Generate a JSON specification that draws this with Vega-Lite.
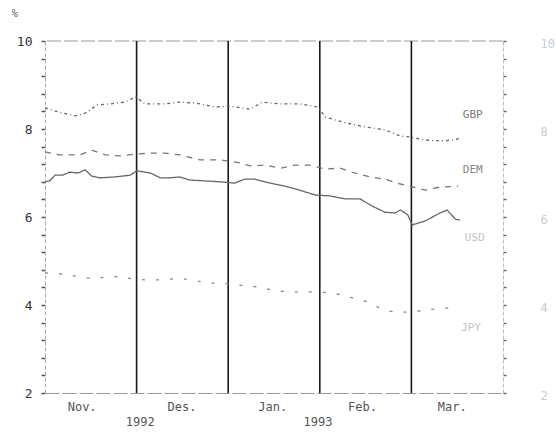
{
  "$schema": "https://vega.github.io/schema/vega-lite/v6.json",
  "autosize": "none",
  "width": 458,
  "height": 352,
  "padding": {"left": 45, "top": 41, "right": 53, "bottom": 44},
  "background": "white",
  "config": {"view": {"stroke": null}},
  "datasets": {
    "rates": [
      {"s": "GBP", "t": 0, "v": 8.48}, {"s": "GBP", "t": 0.16, "v": 8.38}, {"s": "GBP", "t": 0.33, "v": 8.3}, {"s": "GBP", "t": 0.44, "v": 8.36},
      {"s": "GBP", "t": 0.57, "v": 8.55}, {"s": "GBP", "t": 0.71, "v": 8.57}, {"s": "GBP", "t": 0.87, "v": 8.61}, {"s": "GBP", "t": 0.99, "v": 8.73},
      {"s": "GBP", "t": 1.09, "v": 8.57}, {"s": "GBP", "t": 1.31, "v": 8.57}, {"s": "GBP", "t": 1.47, "v": 8.61}, {"s": "GBP", "t": 1.64, "v": 8.59},
      {"s": "GBP", "t": 1.86, "v": 8.5}, {"s": "GBP", "t": 2.02, "v": 8.52}, {"s": "GBP", "t": 2.24, "v": 8.45}, {"s": "GBP", "t": 2.37, "v": 8.61},
      {"s": "GBP", "t": 2.57, "v": 8.57}, {"s": "GBP", "t": 2.78, "v": 8.57}, {"s": "GBP", "t": 2.98, "v": 8.5}, {"s": "GBP", "t": 3.06, "v": 8.27},
      {"s": "GBP", "t": 3.28, "v": 8.14}, {"s": "GBP", "t": 3.49, "v": 8.05}, {"s": "GBP", "t": 3.71, "v": 7.98}, {"s": "GBP", "t": 3.88, "v": 7.84},
      {"s": "GBP", "t": 3.98, "v": 7.82}, {"s": "GBP", "t": 4.15, "v": 7.75}, {"s": "GBP", "t": 4.31, "v": 7.73}, {"s": "GBP", "t": 4.48, "v": 7.75},
      {"s": "GBP", "t": 4.53, "v": 7.8},
      {"s": "DEM", "t": 0, "v": 7.48}, {"s": "DEM", "t": 0.16, "v": 7.41}, {"s": "DEM", "t": 0.38, "v": 7.41}, {"s": "DEM", "t": 0.51, "v": 7.52},
      {"s": "DEM", "t": 0.66, "v": 7.41}, {"s": "DEM", "t": 0.82, "v": 7.39}, {"s": "DEM", "t": 0.98, "v": 7.43}, {"s": "DEM", "t": 1.15, "v": 7.45},
      {"s": "DEM", "t": 1.31, "v": 7.45}, {"s": "DEM", "t": 1.47, "v": 7.41}, {"s": "DEM", "t": 1.69, "v": 7.3}, {"s": "DEM", "t": 1.91, "v": 7.3},
      {"s": "DEM", "t": 2.13, "v": 7.23}, {"s": "DEM", "t": 2.24, "v": 7.16}, {"s": "DEM", "t": 2.4, "v": 7.18}, {"s": "DEM", "t": 2.57, "v": 7.11},
      {"s": "DEM", "t": 2.73, "v": 7.18}, {"s": "DEM", "t": 2.89, "v": 7.18}, {"s": "DEM", "t": 3.06, "v": 7.09}, {"s": "DEM", "t": 3.22, "v": 7.11},
      {"s": "DEM", "t": 3.38, "v": 7.0}, {"s": "DEM", "t": 3.55, "v": 6.91}, {"s": "DEM", "t": 3.71, "v": 6.86}, {"s": "DEM", "t": 3.88, "v": 6.75},
      {"s": "DEM", "t": 3.98, "v": 6.7}, {"s": "DEM", "t": 4.15, "v": 6.61}, {"s": "DEM", "t": 4.31, "v": 6.68}, {"s": "DEM", "t": 4.51, "v": 6.7},
      {"s": "USD", "t": 0, "v": 6.8}, {"s": "USD", "t": 0.05, "v": 6.82}, {"s": "USD", "t": 0.11, "v": 6.95}, {"s": "USD", "t": 0.19, "v": 6.95},
      {"s": "USD", "t": 0.27, "v": 7.02}, {"s": "USD", "t": 0.36, "v": 7.0}, {"s": "USD", "t": 0.44, "v": 7.07}, {"s": "USD", "t": 0.51, "v": 6.93},
      {"s": "USD", "t": 0.6, "v": 6.89}, {"s": "USD", "t": 0.76, "v": 6.91}, {"s": "USD", "t": 0.93, "v": 6.95}, {"s": "USD", "t": 1.0, "v": 7.05},
      {"s": "USD", "t": 1.15, "v": 7.0}, {"s": "USD", "t": 1.26, "v": 6.89}, {"s": "USD", "t": 1.36, "v": 6.89}, {"s": "USD", "t": 1.47, "v": 6.91},
      {"s": "USD", "t": 1.58, "v": 6.84}, {"s": "USD", "t": 1.75, "v": 6.82}, {"s": "USD", "t": 1.91, "v": 6.8}, {"s": "USD", "t": 2.07, "v": 6.77},
      {"s": "USD", "t": 2.18, "v": 6.86}, {"s": "USD", "t": 2.29, "v": 6.86}, {"s": "USD", "t": 2.46, "v": 6.77}, {"s": "USD", "t": 2.62, "v": 6.7},
      {"s": "USD", "t": 2.78, "v": 6.61}, {"s": "USD", "t": 2.95, "v": 6.5}, {"s": "USD", "t": 3.11, "v": 6.48}, {"s": "USD", "t": 3.28, "v": 6.41},
      {"s": "USD", "t": 3.44, "v": 6.41}, {"s": "USD", "t": 3.57, "v": 6.25}, {"s": "USD", "t": 3.71, "v": 6.11}, {"s": "USD", "t": 3.82, "v": 6.09},
      {"s": "USD", "t": 3.88, "v": 6.16}, {"s": "USD", "t": 3.96, "v": 6.05}, {"s": "USD", "t": 4.01, "v": 5.82}, {"s": "USD", "t": 4.15, "v": 5.91},
      {"s": "USD", "t": 4.31, "v": 6.09}, {"s": "USD", "t": 4.39, "v": 6.16}, {"s": "USD", "t": 4.48, "v": 5.95}, {"s": "USD", "t": 4.53, "v": 5.93},
      {"s": "JPY", "t": 0, "v": 4.73}, {"s": "JPY", "t": 0.22, "v": 4.7}, {"s": "JPY", "t": 0.38, "v": 4.64}, {"s": "JPY", "t": 0.55, "v": 4.59},
      {"s": "JPY", "t": 0.71, "v": 4.66}, {"s": "JPY", "t": 0.9, "v": 4.61}, {"s": "JPY", "t": 1.09, "v": 4.57}, {"s": "JPY", "t": 1.29, "v": 4.57},
      {"s": "JPY", "t": 1.47, "v": 4.61}, {"s": "JPY", "t": 1.64, "v": 4.55}, {"s": "JPY", "t": 1.82, "v": 4.5}, {"s": "JPY", "t": 2.04, "v": 4.48},
      {"s": "JPY", "t": 2.18, "v": 4.43}, {"s": "JPY", "t": 2.35, "v": 4.41}, {"s": "JPY", "t": 2.51, "v": 4.32}, {"s": "JPY", "t": 2.67, "v": 4.3},
      {"s": "JPY", "t": 2.86, "v": 4.3}, {"s": "JPY", "t": 3.0, "v": 4.3}, {"s": "JPY", "t": 3.19, "v": 4.25}, {"s": "JPY", "t": 3.36, "v": 4.16},
      {"s": "JPY", "t": 3.53, "v": 4.07}, {"s": "JPY", "t": 3.69, "v": 3.89}, {"s": "JPY", "t": 3.82, "v": 3.84}, {"s": "JPY", "t": 3.98, "v": 3.84},
      {"s": "JPY", "t": 4.18, "v": 3.89}, {"s": "JPY", "t": 4.34, "v": 3.93}, {"s": "JPY", "t": 4.5, "v": 3.93}
    ],
    "bounds": [{"t": 1}, {"t": 2}, {"t": 3}, {"t": 4}],
    "labels": [
      {"s": "GBP", "t": 4.67, "v": 8.32, "c": "#777777"},
      {"s": "DEM", "t": 4.67, "v": 7.07, "c": "#888888"},
      {"s": "USD", "t": 4.69, "v": 5.52, "c": "#c4c4c4"},
      {"s": "JPY", "t": 4.65, "v": 3.48, "c": "#c4c4c4"}
    ],
    "years": [
      {"label": "1992", "t": 1.04, "v": 1.34},
      {"label": "1993", "t": 2.98, "v": 1.34}
    ],
    "unit": [{"label": "%", "t": -0.33, "v": 10.62}]
  },
  "resolve": {"axis": {"y": "independent"}},
  "layer": [
    {
      "data": {"values": [{"v": 10}]},
      "mark": {"type": "rule", "color": "#999999", "strokeWidth": 1.2, "strokeDash": [14, 3]},
      "encoding": {
        "y": {
          "field": "v", "type": "quantitative",
          "scale": {"domain": [2, 10], "nice": false, "zero": false},
          "axis": {
            "orient": "left", "title": null,
            "values": [2, 2.4, 2.8, 3.2, 3.6, 4, 4.4, 4.8, 5.2, 5.6, 6, 6.4, 6.8, 7.2, 7.6, 8, 8.4, 8.8, 9.2, 9.6, 10],
            "labelExpr": "(abs(datum.value - round(datum.value)) < 0.01 && round(datum.value) % 2 == 0) ? format(datum.value, 'd') : ''",
            "labelFont": "DejaVu Sans Mono", "labelFontSize": 13, "labelColor": "#333333",
            "labelPadding": 9, "tickSize": 4, "tickColor": "#555555", "tickWidth": 1.5,
            "domainColor": "#aaaaaa", "domainDash": [4, 2], "grid": false
          }
        }
      }
    },
    {
      "data": {"name": "bounds"},
      "mark": {"type": "rule", "color": "#1a1a1a", "strokeWidth": 1.6},
      "encoding": {
        "x": {
          "field": "t", "type": "quantitative",
          "scale": {"domain": [0, 5], "nice": false, "zero": false},
          "axis": {
            "orient": "bottom", "title": null,
            "values": [0.4, 1.49, 2.48, 3.46, 4.44],
            "labelExpr": "datum.value < 1 ? 'Nov.' : datum.value < 2 ? 'Des.' : datum.value < 3 ? 'Jan.' : datum.value < 4 ? 'Feb.' : 'Mar.'",
            "labelFont": "DejaVu Sans Mono", "labelFontSize": 12, "labelColor": "#555555",
            "labelPadding": 8, "ticks": false, "grid": false,
            "domainColor": "#999999", "domainWidth": 1.2, "domainDash": [14, 3]
          }
        }
      }
    },
    {
      "data": {"name": "rates"},
      "mark": {"type": "line", "strokeWidth": 1.3},
      "encoding": {
        "x": {"field": "t", "type": "quantitative"},
        "y": {
          "field": "v", "type": "quantitative",
          "axis": {
            "orient": "right", "title": null,
            "values": [2, 2.4, 2.8, 3.2, 3.6, 4, 4.4, 4.8, 5.2, 5.6, 6, 6.4, 6.8, 7.2, 7.6, 8, 8.4, 8.8, 9.2, 9.6, 10],
            "labelExpr": "(abs(datum.value - round(datum.value)) < 0.01 && round(datum.value) % 2 == 0) ? format(datum.value, 'd') : ''",
            "labelFont": "DejaVu Sans Mono", "labelFontSize": 12, "labelColor": "#cccccc",
            "labelPadding": 34, "labelOffset": 2, "tickSize": 3, "tickColor": "#666666", "tickWidth": 1.5,
            "domainColor": "#bbbbbb", "domainDash": [4, 2], "grid": false
          }
        },
        "detail": {"field": "s"},
        "color": {
          "field": "s", "type": "nominal", "legend": null,
          "scale": {"domain": ["GBP", "DEM", "USD", "JPY"], "range": ["#666666", "#777777", "#666666", "#888888"]}
        },
        "strokeDash": {
          "field": "s", "type": "nominal", "legend": null,
          "scale": {"domain": ["GBP", "DEM", "USD", "JPY"], "range": [[3, 3, 1, 3], [6, 6], [1, 0], [3, 11]]}
        }
      }
    },
    {
      "data": {"name": "labels"},
      "mark": {"type": "text", "font": "DejaVu Sans Mono", "fontSize": 11, "align": "center", "baseline": "middle"},
      "encoding": {
        "x": {"field": "t", "type": "quantitative"},
        "y": {"field": "v", "type": "quantitative", "axis": null},
        "text": {"field": "s"},
        "color": {"field": "c", "type": "nominal", "scale": null}
      }
    },
    {
      "data": {"name": "years"},
      "mark": {"type": "text", "font": "DejaVu Sans Mono", "fontSize": 12, "color": "#555555", "align": "center", "baseline": "middle"},
      "encoding": {
        "x": {"field": "t", "type": "quantitative"},
        "y": {"field": "v", "type": "quantitative", "axis": null},
        "text": {"field": "label"}
      }
    },
    {
      "data": {"name": "unit"},
      "mark": {"type": "text", "font": "DejaVu Sans Mono", "fontSize": 10, "color": "#555555", "align": "center", "baseline": "middle"},
      "encoding": {
        "x": {"field": "t", "type": "quantitative"},
        "y": {"field": "v", "type": "quantitative", "axis": null},
        "text": {"field": "label"}
      }
    }
  ]
}
